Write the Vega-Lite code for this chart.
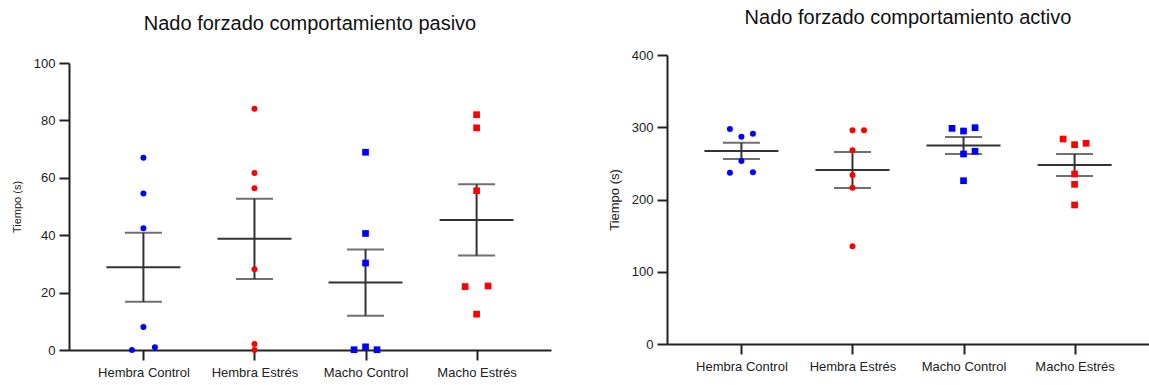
{
  "$schema": "https://vega.github.io/schema/vega-lite/v6.json",
  "background": "white",
  "padding": {"left": 11, "top": 8, "right": 0, "bottom": 0},
  "spacing": 57,
  "config": {
    "font": "Liberation Sans",
    "view": {"stroke": null},
    "axis": {
      "domainColor": "#222222",
      "domainWidth": 2,
      "tickColor": "#222222",
      "tickWidth": 2,
      "tickSize": 10,
      "labelColor": "#222222",
      "labelFont": "Liberation Sans",
      "labelFontSize": 13,
      "labelPadding": 4,
      "titleFont": "Liberation Sans",
      "titleFontWeight": "normal",
      "titleColor": "#222222",
      "grid": false
    },
    "title": {"font": "Liberation Sans", "fontSize": 20, "fontWeight": "normal", "color": "#111111", "anchor": "middle"}
  },
  "datasets": {
    "pasivo": [
      {"grupo": "Hembra Control", "sexo": "Hembra", "pos": "C", "tiempo": 67.0},
      {"grupo": "Hembra Control", "sexo": "Hembra", "pos": "C", "tiempo": 54.5},
      {"grupo": "Hembra Control", "sexo": "Hembra", "pos": "C", "tiempo": 42.4},
      {"grupo": "Hembra Control", "sexo": "Hembra", "pos": "C", "tiempo": 8.0},
      {"grupo": "Hembra Control", "sexo": "Hembra", "pos": "L", "tiempo": 0.0},
      {"grupo": "Hembra Control", "sexo": "Hembra", "pos": "R", "tiempo": 1.0},
      {"grupo": "Hembra Estrés", "sexo": "Hembra", "pos": "C", "tiempo": 84.1},
      {"grupo": "Hembra Estrés", "sexo": "Hembra", "pos": "C", "tiempo": 61.7},
      {"grupo": "Hembra Estrés", "sexo": "Hembra", "pos": "C", "tiempo": 56.4},
      {"grupo": "Hembra Estrés", "sexo": "Hembra", "pos": "C", "tiempo": 28.1},
      {"grupo": "Hembra Estrés", "sexo": "Hembra", "pos": "C", "tiempo": 2.1},
      {"grupo": "Hembra Estrés", "sexo": "Hembra", "pos": "C", "tiempo": 0.0},
      {"grupo": "Macho Control", "sexo": "Macho", "pos": "C", "tiempo": 68.9},
      {"grupo": "Macho Control", "sexo": "Macho", "pos": "C", "tiempo": 40.6},
      {"grupo": "Macho Control", "sexo": "Macho", "pos": "C", "tiempo": 30.3},
      {"grupo": "Macho Control", "sexo": "Macho", "pos": "C", "tiempo": 1.1},
      {"grupo": "Macho Control", "sexo": "Macho", "pos": "L", "tiempo": 0.1},
      {"grupo": "Macho Control", "sexo": "Macho", "pos": "R", "tiempo": 0.1},
      {"grupo": "Macho Estrés", "sexo": "Macho", "pos": "C", "tiempo": 82.0},
      {"grupo": "Macho Estrés", "sexo": "Macho", "pos": "C", "tiempo": 77.4},
      {"grupo": "Macho Estrés", "sexo": "Macho", "pos": "C", "tiempo": 55.5},
      {"grupo": "Macho Estrés", "sexo": "Macho", "pos": "L", "tiempo": 22.1},
      {"grupo": "Macho Estrés", "sexo": "Macho", "pos": "R", "tiempo": 22.3},
      {"grupo": "Macho Estrés", "sexo": "Macho", "pos": "C", "tiempo": 12.5}
    ],
    "activo": [
      {"grupo": "Hembra Control", "sexo": "Hembra", "pos": "L", "tiempo": 297.6},
      {"grupo": "Hembra Control", "sexo": "Hembra", "pos": "C", "tiempo": 287.0},
      {"grupo": "Hembra Control", "sexo": "Hembra", "pos": "R", "tiempo": 291.0},
      {"grupo": "Hembra Control", "sexo": "Hembra", "pos": "C", "tiempo": 253.3},
      {"grupo": "Hembra Control", "sexo": "Hembra", "pos": "L", "tiempo": 237.1},
      {"grupo": "Hembra Control", "sexo": "Hembra", "pos": "R", "tiempo": 237.6},
      {"grupo": "Hembra Estrés", "sexo": "Hembra", "pos": "C", "tiempo": 295.7},
      {"grupo": "Hembra Estrés", "sexo": "Hembra", "pos": "R", "tiempo": 295.7},
      {"grupo": "Hembra Estrés", "sexo": "Hembra", "pos": "C", "tiempo": 268.0},
      {"grupo": "Hembra Estrés", "sexo": "Hembra", "pos": "C", "tiempo": 233.9},
      {"grupo": "Hembra Estrés", "sexo": "Hembra", "pos": "C", "tiempo": 216.4},
      {"grupo": "Hembra Estrés", "sexo": "Hembra", "pos": "C", "tiempo": 135.2},
      {"grupo": "Macho Control", "sexo": "Macho", "pos": "L", "tiempo": 298.5},
      {"grupo": "Macho Control", "sexo": "Macho", "pos": "C", "tiempo": 294.8},
      {"grupo": "Macho Control", "sexo": "Macho", "pos": "R", "tiempo": 299.4},
      {"grupo": "Macho Control", "sexo": "Macho", "pos": "C", "tiempo": 263.0},
      {"grupo": "Macho Control", "sexo": "Macho", "pos": "R", "tiempo": 266.7},
      {"grupo": "Macho Control", "sexo": "Macho", "pos": "C", "tiempo": 226.0},
      {"grupo": "Macho Estrés", "sexo": "Macho", "pos": "L", "tiempo": 283.7},
      {"grupo": "Macho Estrés", "sexo": "Macho", "pos": "C", "tiempo": 275.9},
      {"grupo": "Macho Estrés", "sexo": "Macho", "pos": "R", "tiempo": 277.8},
      {"grupo": "Macho Estrés", "sexo": "Macho", "pos": "C", "tiempo": 235.3},
      {"grupo": "Macho Estrés", "sexo": "Macho", "pos": "C", "tiempo": 221.0},
      {"grupo": "Macho Estrés", "sexo": "Macho", "pos": "C", "tiempo": 192.4}
    ]
  },
  "hconcat": [
    {
      "width": 482,
      "height": 295,
      "title": {"text": "Nado forzado comportamiento pasivo", "offset": 21},
      "data": {"name": "pasivo"},
      "encoding": {
        "x": {
          "field": "grupo",
          "type": "nominal",
          "scale": {"type": "point", "padding": 0.67, "domain": ["Hembra Control", "Hembra Estrés", "Macho Control", "Macho Estrés"]},
          "axis": {"title": null, "labelAngle": 0, "labelPadding": 6}
        }
      },
      "layer": [
        {
          "mark": {"type": "errorbar", "extent": "stderr", "color": "#333333", "thickness": 2, "ticks": {"size": 37, "thickness": 2, "color": "#333333"}},
          "encoding": {
            "y": {"field": "tiempo", "type": "quantitative", "scale": {"domain": [0, 100], "nice": false, "range": [295, 8]}, "title": "Tiempo (s)",
                  "axis": {"values": [0, 20, 40, 60, 80, 100], "titleFontSize": 11, "titlePadding": 11}}
          }
        },
        {
          "mark": {"type": "tick", "size": 74, "thickness": 2, "color": "#333333"},
          "encoding": {"y": {"aggregate": "mean", "field": "tiempo", "type": "quantitative"}}
        },
        {
          "mark": {"type": "point", "filled": true, "opacity": 1},
          "encoding": {
            "xOffset": {"field": "pos", "type": "nominal", "scale": {"type": "point", "padding": 0, "domain": ["L", "C", "R"], "range": [-11.5, 11.5]}},
            "y": {"field": "tiempo", "type": "quantitative"},
            "color": {"field": "grupo", "type": "nominal", "legend": null,
                      "scale": {"domain": ["Hembra Control", "Hembra Estrés", "Macho Control", "Macho Estrés"], "range": ["#0000ff", "#ff0000", "#0000ff", "#ff0000"]}},
            "shape": {"field": "sexo", "type": "nominal", "legend": null, "scale": {"domain": ["Hembra", "Macho"], "range": ["circle", "square"]}},
            "size": {"field": "sexo", "type": "nominal", "legend": null, "scale": {"domain": ["Hembra", "Macho"], "range": [36, 45]}}
          }
        }
      ]
    },
    {
      "width": 482,
      "height": 289,
      "title": {"text": "Nado forzado comportamiento activo", "offset": 21},
      "data": {"name": "activo"},
      "encoding": {
        "x": {
          "field": "grupo",
          "type": "nominal",
          "scale": {"type": "point", "padding": 0.67, "domain": ["Hembra Control", "Hembra Estrés", "Macho Control", "Macho Estrés"]},
          "axis": {"title": null, "labelAngle": 0, "labelPadding": 6}
        }
      },
      "layer": [
        {
          "mark": {"type": "errorbar", "extent": "stderr", "color": "#333333", "thickness": 2, "ticks": {"size": 37, "thickness": 2, "color": "#333333"}},
          "encoding": {
            "y": {"field": "tiempo", "type": "quantitative", "scale": {"domain": [0, 400], "nice": false}, "title": "Tiempo (s)",
                  "axis": {"values": [0, 100, 200, 300, 400], "titleFontSize": 13, "titlePadding": 10}}
          }
        },
        {
          "mark": {"type": "tick", "size": 74, "thickness": 2, "color": "#333333"},
          "encoding": {"y": {"aggregate": "mean", "field": "tiempo", "type": "quantitative"}}
        },
        {
          "mark": {"type": "point", "filled": true, "opacity": 1},
          "encoding": {
            "xOffset": {"field": "pos", "type": "nominal", "scale": {"type": "point", "padding": 0, "domain": ["L", "C", "R"], "range": [-11.5, 11.5]}},
            "y": {"field": "tiempo", "type": "quantitative"},
            "color": {"field": "grupo", "type": "nominal", "legend": null,
                      "scale": {"domain": ["Hembra Control", "Hembra Estrés", "Macho Control", "Macho Estrés"], "range": ["#0000ff", "#ff0000", "#0000ff", "#ff0000"]}},
            "shape": {"field": "sexo", "type": "nominal", "legend": null, "scale": {"domain": ["Hembra", "Macho"], "range": ["circle", "square"]}},
            "size": {"field": "sexo", "type": "nominal", "legend": null, "scale": {"domain": ["Hembra", "Macho"], "range": [36, 45]}}
          }
        }
      ]
    }
  ]
}
